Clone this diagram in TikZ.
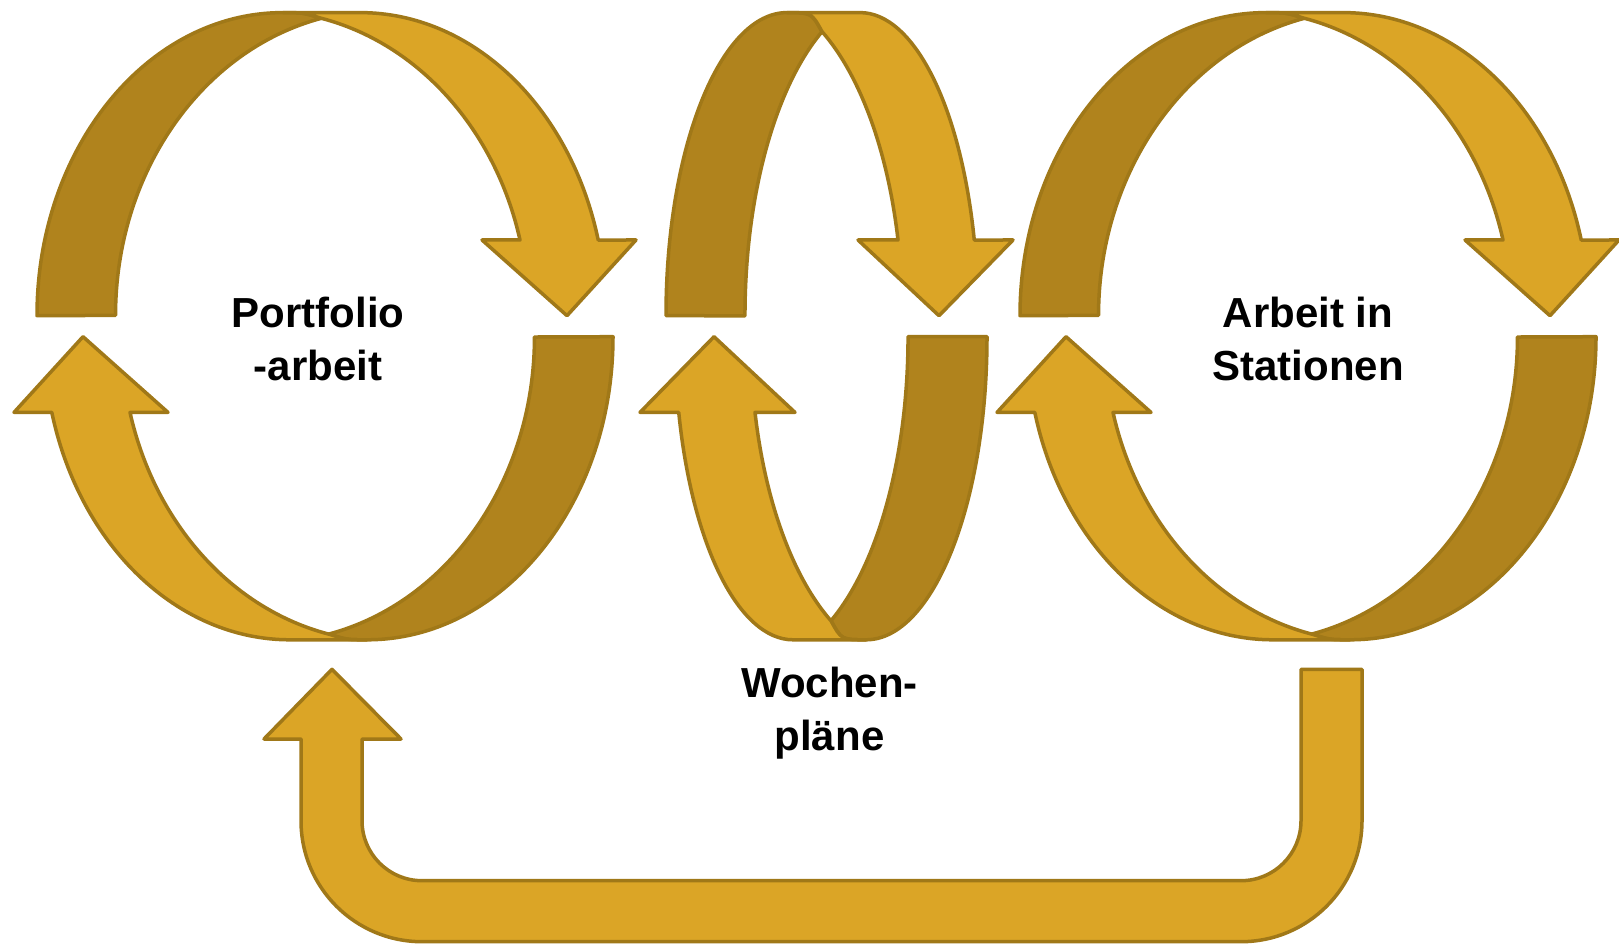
\documentclass[tikz,border=0pt]{standalone}
\usepackage{fontspec}
\setmainfont{Liberation Sans}
\definecolor{goldlight}{RGB}{219,165,38}
\definecolor{golddark}{RGB}{176,131,29}
\definecolor{goldline}{RGB}{160,120,24}

\tikzset{
  darkband/.style={fill=golddark, draw=goldline, line width=3.5pt, line join=round},
  lightband/.style={fill=goldlight, draw=goldline, line width=3.5pt, line join=round},
  cycletext/.style={font=\fontsize{42}{53}\selectfont\bfseries, align=center, inner sep=0pt}
}

% half of a wide cycle: back part + arrow, centred at the origin
\newcommand{\bighalf}{
  \draw[darkband] (-288,10.5) arc[start angle=180, end angle=90, x radius=246, y radius=303.1]
    .. controls (-22,313.6) .. (-3.3,308)
    arc[start angle=103, end angle=180, x radius=266, y radius=305] -- cycle;
  \draw[lightband] (-42,313.6) -- (35,313.6)
    arc[start angle=90, end angle=14.46, x radius=246, y radius=303.1]
    -- (311,86.2) -- (242,10.5) -- (157,86.2) -- (195,86.2)
    arc[start angle=14.37, end angle=77.3, x radius=266, y radius=305]
    .. controls (-22,313.6) .. (-42,313.6) -- cycle;
}
% half of the narrow cycle
\newcommand{\smallhalf}{
  \draw[darkband] (-160.5,10.5) arc[start angle=180, end angle=90, x radius=121, y radius=303.1]
    .. controls (-15,313.6) .. (-4.5,294.5)
    arc[start angle=118.4, end angle=180, x radius=146.9, y radius=323] -- cycle;
  \draw[lightband] (-39.5,313.6) -- (33.5,313.6)
    arc[start angle=90, end angle=14.46, x radius=118, y radius=303.1]
    -- (186.5,86.2) -- (112.5,10.5) -- (31.5,86.2) -- (71.5,86.2)
    arc[start angle=13.56, end angle=61.6, x radius=153, y radius=323]
    .. controls (-15,313.6) .. (-39.5,313.6) -- cycle;
}

\begin{document}
\begin{tikzpicture}[x=1pt, y=1pt]
    \useasboundingbox (0,0) rectangle (1619,943);
    % Centres of the three cycles
    \coordinate (port) at (325,616.8);
    \coordinate (woch) at (826.5,616.8);
    \coordinate (stat) at (1308,616.8);
    % Cycles, upper and lower halves
    \foreach \r in {0,180} {
        \begin{scope}[shift={(port)}, rotate=\r]
            \bighalf
        \end{scope}
        \begin{scope}[shift={(woch)}, rotate=\r]
            \smallhalf
        \end{scope}
        \begin{scope}[shift={(stat)}, rotate=\r]
            \bighalf
        \end{scope}
    }
    % Return arrow
    \draw[lightband] (301,204) -- (264,204) -- (332,273.7) -- (401,204) -- (362,204)
        -- (362,122.3) arc[start angle=180, end angle=270, radius=60]
        -- (1241,62.3) arc[start angle=270, end angle=360, radius=60]
        -- (1301,273.7) -- (1362,273.7)
        -- (1362,122.3) arc[start angle=0, end angle=-90, radius=121]
        -- (422,1.3) arc[start angle=270, end angle=180, radius=121] -- cycle;
    % Labels (base = last line)
    \node[cycletext, anchor=base] (portfolio) at (318,562) {Portfolio\\-arbeit};
    \node[cycletext, anchor=base] (wochen) at (829.5,193) {Wochen-\\pläne};
    \node[cycletext, anchor=base] (stationen) at (1308,562) {Arbeit in\\Stationen};
\end{tikzpicture}
\end{document}
